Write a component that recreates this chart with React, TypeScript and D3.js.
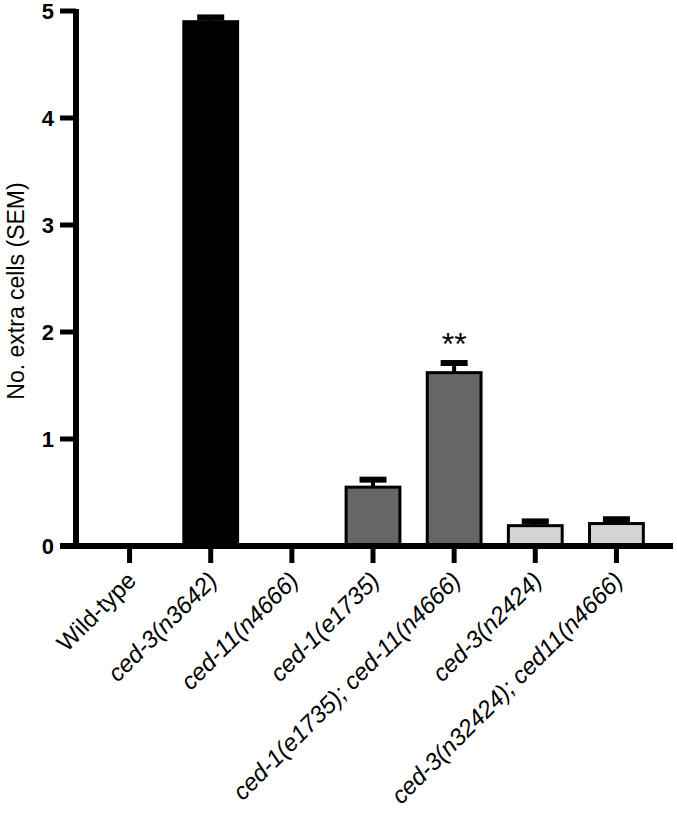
import React from "react";
import * as d3 from "d3";

const categories = [
  "Wild-type",
  "ced-3(n3642)",
  "ced-11(n4666)",
  "ced-1(e1735)",
  "ced-1(e1735); ced-11(n4666)",
  "ced-3(n2424)",
  "ced-3(n32424); ced11(n4666)",
];
const italicLabel = [false, true, true, true, true, true, true];
const means = [0, 4.9, 0, 0.55, 1.62, 0.19, 0.21];
const sems = [0, 0.04, 0, 0.07, 0.09, 0.04, 0.04];
const fills = ["#000000", "#000000", "#000000", "#666666", "#666666", "#d4d4d4", "#d4d4d4"];
const yTicks = [0, 1, 2, 3, 4, 5];
const annotations = ["", "", "", "", "**", "", ""];

const W = 677;
const H = 819;
const FONT = "'Liberation Sans', Arial, Helvetica, sans-serif";

export default function App() {
  const y = d3.scaleLinear().domain([0, 5]).range([546, 11]);
  const x = d3
    .scaleBand<string>()
    .domain(categories)
    .range([89, 657])
    .paddingInner(0.3)
    .paddingOuter(0.15);
  const bw = x.bandwidth();
  const axisX = 76;
  const axisY = y(0);

  return (
    <svg
      width={W}
      height={H}
      style={{ position: "absolute", left: 0, top: 0, background: "#fff" }}
      fontFamily={FONT}
    >
      {/* bars */}
      {categories.map((c, i) => {
        if (means[i] <= 0) return null;
        const x0 = (x(c) as number) + 1.5;
        const top = y(means[i]);
        return (
          <rect
            key={"bar" + i}
            x={x0}
            y={top}
            width={bw - 3}
            height={axisY - top}
            fill={fills[i]}
            stroke="#000"
            strokeWidth={3}
          />
        );
      })}
      {/* error bars */}
      {categories.map((c, i) => {
        if (means[i] <= 0) return null;
        const cx = (x(c) as number) + bw / 2;
        const top = y(means[i]);
        const et = y(means[i] + sems[i]);
        return (
          <g key={"err" + i}>
            <line x1={cx} x2={cx} y1={top} y2={et} stroke="#000" strokeWidth={4} />
            <line x1={cx - 13.5} x2={cx + 13.5} y1={et} y2={et} stroke="#000" strokeWidth={6} />
          </g>
        );
      })}
      {/* annotations */}
      {categories.map((c, i) =>
        annotations[i] ? (
          <text
            key={"ann" + i}
            x={(x(c) as number) + bw / 2}
            y={y(means[i] + sems[i]) - 8}
            textAnchor="middle"
            fontSize={32}
            fill="#000"
          >
            {annotations[i]}
          </text>
        ) : null
      )}
      {/* y axis */}
      <line x1={axisX} x2={axisX} y1={y(5) - 2} y2={axisY + 3} stroke="#000" strokeWidth={6} />
      {yTicks.map((t) => (
        <g key={"yt" + t}>
          <line x1={60} x2={axisX} y1={y(t)} y2={y(t)} stroke="#000" strokeWidth={5} />
          <text
            x={54}
            y={y(t)}
            dy="0.36em"
            textAnchor="end"
            fontSize={22}
            fontWeight="bold"
            fill="#000"
          >
            {t}
          </text>
        </g>
      ))}
      {/* x axis */}
      <line x1={60} x2={673} y1={axisY} y2={axisY} stroke="#000" strokeWidth={6} />
      {categories.map((c, i) => {
        const cx = (x(c) as number) + bw / 2;
        return (
          <g key={"xt" + i}>
            <line x1={cx} x2={cx} y1={axisY} y2={563} stroke="#000" strokeWidth={5} />
            <text
              transform={`translate(${cx + 8},${582}) rotate(-45)`}
              textAnchor="end"
              fontSize={24}
              fontStyle={italicLabel[i] ? "italic" : "normal"}
              fill="#000"
            >
              {c}
            </text>
          </g>
        );
      })}
      {/* y label */}
      <text
        transform={`translate(${24},${291}) rotate(-90)`}
        textAnchor="middle"
        fontSize={23}
        fill="#000"
      >
        No. extra cells (SEM)
      </text>
    </svg>
  );
}
